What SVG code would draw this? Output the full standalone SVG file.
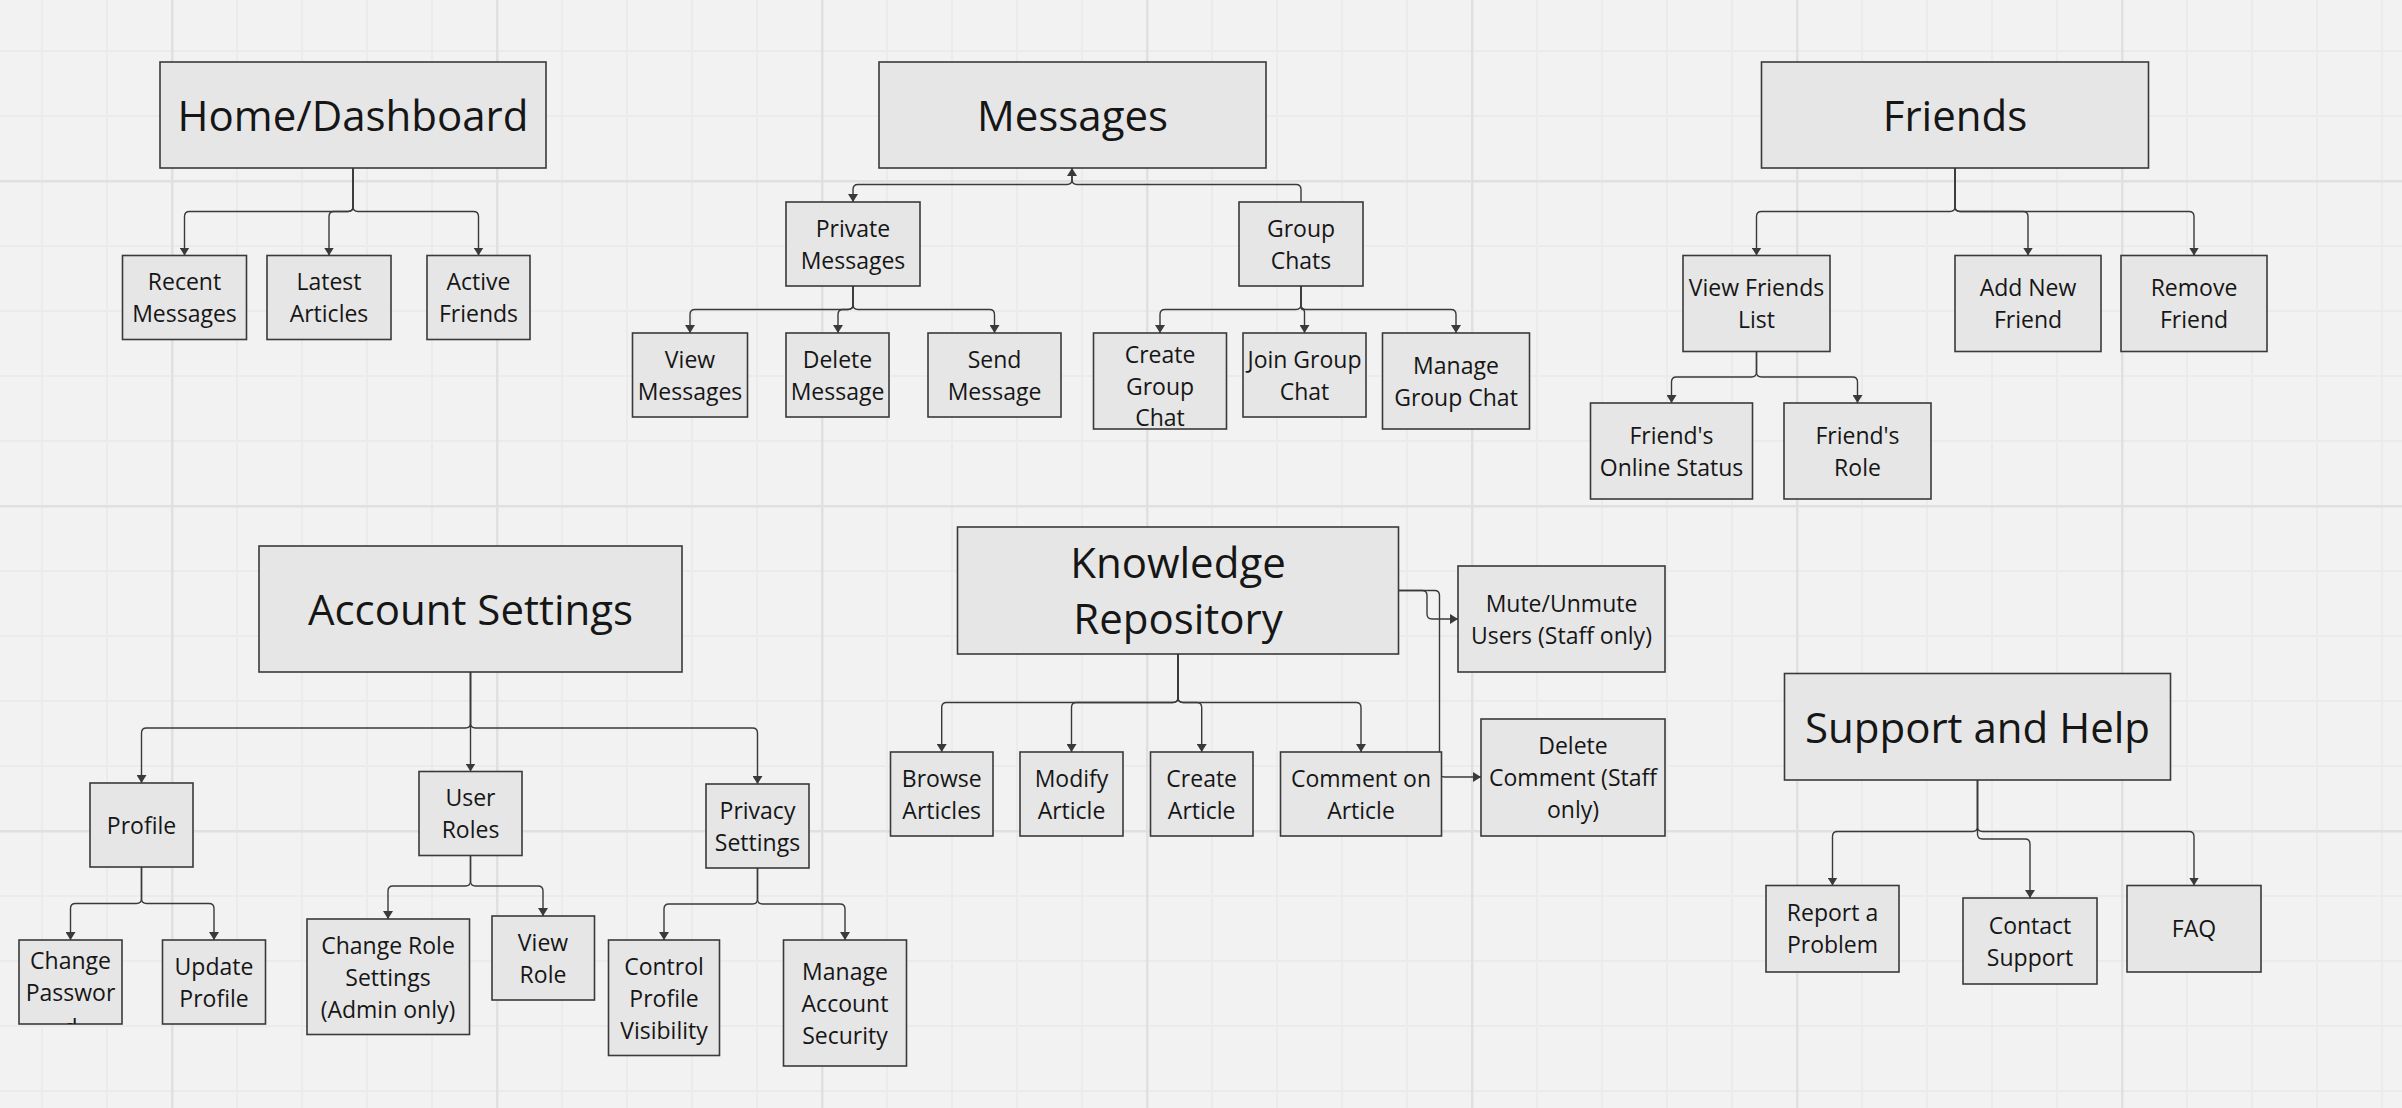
<svg xmlns="http://www.w3.org/2000/svg" width="2402" height="1108" viewBox="0 0 2402 1108">
<style>
.n rect{fill:#e6e6e6;stroke:#3a3a3a;stroke-width:1.6}
text{font-family:"Open Sans","Noto Sans","Liberation Sans",sans-serif;fill:#161616;text-anchor:middle}
.s{font-size:23px}
.l{font-size:42px}
#connectors path{fill:none;stroke:#3a3a3a;stroke-width:1.4}
</style>
<defs>
<pattern id="grid" patternUnits="userSpaceOnUse" x="171" y="180" width="325" height="325">
<rect x="65" y="0" width="2" height="325" fill="#ebebeb"/>
<rect x="130" y="0" width="2" height="325" fill="#ebebeb"/>
<rect x="195" y="0" width="2" height="325" fill="#ebebeb"/>
<rect x="260" y="0" width="2" height="325" fill="#ebebeb"/>
<rect x="0" y="65" width="325" height="2" fill="#ebebeb"/>
<rect x="0" y="130" width="325" height="2" fill="#ebebeb"/>
<rect x="0" y="195" width="325" height="2" fill="#ebebeb"/>
<rect x="0" y="260" width="325" height="2" fill="#ebebeb"/>
<rect x="0" y="0" width="2.5" height="325" fill="#e0e0e0"/>
<rect x="0" y="0" width="325" height="2.5" fill="#e0e0e0"/>
</pattern>
<marker id="ah" markerUnits="userSpaceOnUse" viewBox="0 0 8 10" refX="8" refY="5" markerWidth="8" markerHeight="10" orient="auto">
<path d="M0,0 L8,5 L0,10 z" fill="#3a3a3a"/>
</marker>
<clipPath id="clipPw"><rect x="19" y="940" width="103" height="84"/></clipPath>
</defs>
<rect width="2402" height="1108" fill="#f2f2f2"/>
<rect width="2402" height="1108" fill="url(#grid)"/>

<g id="connectors">
<path d="M353,168 V206.5 Q353,211.5 348,211.5 H189.5 Q184.5,211.5 184.5,216.5 V255.5" marker-end="url(#ah)"/>
<path d="M353,168 V206.5 Q353,211.5 348,211.5 H334 Q329,211.5 329,216.5 V255.5" marker-end="url(#ah)"/>
<path d="M353,168 V206.5 Q353,211.5 358,211.5 H473.5 Q478.5,211.5 478.5,216.5 V255.5" marker-end="url(#ah)"/>

<path d="M1301,202 V189.5 Q1301,184.5 1296,184.5 H1077 Q1072,184.5 1072,179.5 V168" marker-end="url(#ah)"/>
<path d="M1072,168 V179.5 Q1072,184.5 1067,184.5 H858 Q853,184.5 853,189.5 V202" marker-end="url(#ah)"/>

<path d="M853,286 V304.5 Q853,309.5 848,309.5 H695 Q690,309.5 690,314.5 V333" marker-end="url(#ah)"/>
<path d="M853,286 V304.5 Q853,309.5 848,309.5 H843 Q838,309.5 838,314.5 V333" marker-end="url(#ah)"/>
<path d="M853,286 V304.5 Q853,309.5 858,309.5 H989.5 Q994.5,309.5 994.5,314.5 V333" marker-end="url(#ah)"/>

<path d="M1301,286 V304.5 Q1301,309.5 1296,309.5 H1165 Q1160,309.5 1160,314.5 V333" marker-end="url(#ah)"/>
<path d="M1301,286 V306.5 Q1301,309.5 1302.8,309.5 Q1304.5,309.5 1304.5,312.5 V333" marker-end="url(#ah)"/>
<path d="M1301,286 V304.5 Q1301,309.5 1306,309.5 H1451 Q1456,309.5 1456,314.5 V333" marker-end="url(#ah)"/>

<path d="M1955,168 V206.5 Q1955,211.5 1950,211.5 H1761.5 Q1756.5,211.5 1756.5,216.5 V255.5" marker-end="url(#ah)"/>
<path d="M1955,168 V206.5 Q1955,211.5 1960,211.5 H2023 Q2028,211.5 2028,216.5 V255.5" marker-end="url(#ah)"/>
<path d="M1955,168 V206.5 Q1955,211.5 1960,211.5 H2189 Q2194,211.5 2194,216.5 V255.5" marker-end="url(#ah)"/>

<path d="M1756.5,351.5 V372 Q1756.5,377 1751.5,377 H1676.5 Q1671.5,377 1671.5,382 V403" marker-end="url(#ah)"/>
<path d="M1756.5,351.5 V372 Q1756.5,377 1761.5,377 H1852.5 Q1857.5,377 1857.5,382 V403" marker-end="url(#ah)"/>

<path d="M470.5,672 V723 Q470.5,728 465.5,728 H146.5 Q141.5,728 141.5,733 V783" marker-end="url(#ah)"/>
<path d="M470.5,672 V771.5" marker-end="url(#ah)"/>
<path d="M470.5,672 V723 Q470.5,728 475.5,728 H752.5 Q757.5,728 757.5,733 V784" marker-end="url(#ah)"/>

<path d="M141.5,867 V898.5 Q141.5,903.5 136.5,903.5 H75.5 Q70.5,903.5 70.5,908.5 V940" marker-end="url(#ah)"/>
<path d="M141.5,867 V898.5 Q141.5,903.5 146.5,903.5 H209 Q214,903.5 214,908.5 V940" marker-end="url(#ah)"/>

<path d="M470.5,855.5 V881 Q470.5,886 465.5,886 H393 Q388,886 388,891 V919" marker-end="url(#ah)"/>
<path d="M470.5,855.5 V881 Q470.5,886 475.5,886 H538 Q543,886 543,891 V916" marker-end="url(#ah)"/>

<path d="M757.5,868 V899 Q757.5,904 752.5,904 H669 Q664,904 664,909 V940" marker-end="url(#ah)"/>
<path d="M757.5,868 V899 Q757.5,904 762.5,904 H840 Q845,904 845,909 V940" marker-end="url(#ah)"/>

<path d="M1178,654 V697.5 Q1178,702.5 1173,702.5 H946.7 Q941.7,702.5 941.7,707.5 V752" marker-end="url(#ah)"/>
<path d="M1178,654 V697.5 Q1178,702.5 1173,702.5 H1076.5 Q1071.5,702.5 1071.5,707.5 V752" marker-end="url(#ah)"/>
<path d="M1178,654 V697.5 Q1178,702.5 1183,702.5 H1196.7 Q1201.7,702.5 1201.7,707.5 V752" marker-end="url(#ah)"/>
<path d="M1178,654 V697.5 Q1178,702.5 1183,702.5 H1356 Q1361,702.5 1361,707.5 V752" marker-end="url(#ah)"/>

<path d="M1398.5,590.5 H1422 Q1427,590.5 1427,595.5 V614 Q1427,619 1432,619 H1458" marker-end="url(#ah)"/>
<path d="M1398.5,590.5 H1434.5 Q1439.5,590.5 1439.5,595.5 V772 Q1439.5,777 1444.5,777 H1481" marker-end="url(#ah)"/>

<path d="M1977.5,780 V826.5 Q1977.5,831.5 1972.5,831.5 H1837.5 Q1832.5,831.5 1832.5,836.5 V885.5" marker-end="url(#ah)"/>
<path d="M1977.5,780 V826.5 Q1977.5,831.5 1982.5,831.5 H2189 Q2194,831.5 2194,836.5 V885.5" marker-end="url(#ah)"/>
<path d="M1977.5,780 V834 Q1977.5,839 1982.5,839 H2025 Q2030,839 2030,844 V898" marker-end="url(#ah)"/>
</g>

<g id="home" class="n"><rect x="160" y="62" width="386" height="106"/><text class="l" x="353" y="131">Home/Dashboard</text></g>
<g id="recent-messages" class="n"><rect x="122.5" y="255.5" width="124" height="84"/><text class="s" x="184.5" y="290">Recent</text><text class="s" x="184.5" y="322">Messages</text></g>
<g id="latest-articles" class="n"><rect x="267" y="255.5" width="124" height="84"/><text class="s" x="329" y="290">Latest</text><text class="s" x="329" y="322">Articles</text></g>
<g id="active-friends" class="n"><rect x="427" y="255.5" width="103" height="84"/><text class="s" x="478.5" y="290">Active</text><text class="s" x="478.5" y="322">Friends</text></g>

<g id="messages" class="n"><rect x="879" y="62" width="387" height="106"/><text class="l" x="1072.5" y="131">Messages</text></g>
<g id="private-messages" class="n"><rect x="786" y="202" width="134" height="84"/><text class="s" x="853" y="236.5">Private</text><text class="s" x="853" y="268.5">Messages</text></g>
<g id="group-chats" class="n"><rect x="1239" y="202" width="124" height="84"/><text class="s" x="1301" y="236.5">Group</text><text class="s" x="1301" y="268.5">Chats</text></g>
<g id="view-messages" class="n"><rect x="632.5" y="333" width="115" height="84"/><text class="s" x="690" y="367.5">View</text><text class="s" x="690" y="399.5">Messages</text></g>
<g id="delete-message" class="n"><rect x="786" y="333" width="103" height="84"/><text class="s" x="837.5" y="367.5">Delete</text><text class="s" x="837.5" y="399.5">Message</text></g>
<g id="send-message" class="n"><rect x="928" y="333" width="133" height="84"/><text class="s" x="994.5" y="367.5">Send</text><text class="s" x="994.5" y="399.5">Message</text></g>
<g id="create-group-chat" class="n"><rect x="1093.5" y="333" width="133" height="96"/><text class="s" x="1160" y="362.5">Create</text><text class="s" x="1160" y="394.5">Group</text><text class="s" x="1160" y="426">Chat</text></g>
<g id="join-group-chat" class="n"><rect x="1243" y="333" width="123" height="84"/><text class="s" x="1304.5" y="367.5">Join Group</text><text class="s" x="1304.5" y="399.5">Chat</text></g>
<g id="manage-group-chat" class="n"><rect x="1382.5" y="333" width="147" height="96"/><text class="s" x="1456" y="373.5">Manage</text><text class="s" x="1456" y="405.5">Group Chat</text></g>

<g id="friends" class="n"><rect x="1761.5" y="62" width="387" height="106"/><text class="l" x="1955" y="131">Friends</text></g>
<g id="view-friends-list" class="n"><rect x="1683" y="255.5" width="147" height="96"/><text class="s" x="1756.5" y="296">View Friends</text><text class="s" x="1756.5" y="328">List</text></g>
<g id="add-new-friend" class="n"><rect x="1955" y="255.5" width="146" height="96"/><text class="s" x="2028" y="296">Add New</text><text class="s" x="2028" y="328">Friend</text></g>
<g id="remove-friend" class="n"><rect x="2121" y="255.5" width="146" height="96"/><text class="s" x="2194" y="296">Remove</text><text class="s" x="2194" y="328">Friend</text></g>
<g id="friends-online-status" class="n"><rect x="1590.5" y="403" width="162" height="96"/><text class="s" x="1671.5" y="443.5">Friend's</text><text class="s" x="1671.5" y="475.5">Online Status</text></g>
<g id="friends-role" class="n"><rect x="1784" y="403" width="147" height="96"/><text class="s" x="1857.5" y="443.5">Friend's</text><text class="s" x="1857.5" y="475.5">Role</text></g>

<g id="account-settings" class="n"><rect x="259" y="546" width="423" height="126"/><text class="l" x="470.5" y="625">Account Settings</text></g>
<g id="profile" class="n"><rect x="90" y="783" width="103" height="84"/><text class="s" x="141.5" y="833.5">Profile</text></g>
<g id="user-roles" class="n"><rect x="419" y="771.5" width="103" height="84"/><text class="s" x="470.5" y="806">User</text><text class="s" x="470.5" y="838">Roles</text></g>
<g id="privacy-settings" class="n"><rect x="706" y="784" width="103" height="84"/><text class="s" x="757.5" y="818.5">Privacy</text><text class="s" x="757.5" y="850.5">Settings</text></g>
<g id="change-password" class="n"><rect x="19" y="940" width="103" height="84"/><g clip-path="url(#clipPw)"><text class="s" x="70.5" y="969">Change</text><text class="s" x="70.5" y="1001">Passwor</text><text class="s" x="70.5" y="1036">d</text></g></g>
<g id="update-profile" class="n"><rect x="162.5" y="940" width="103" height="84"/><text class="s" x="214" y="974.5">Update</text><text class="s" x="214" y="1006.5">Profile</text></g>
<g id="change-role-settings" class="n"><rect x="307" y="919" width="162.5" height="115.5"/><text class="s" x="388" y="953.5">Change Role</text><text class="s" x="388" y="985.5">Settings</text><text class="s" x="388" y="1017.5">(Admin only)</text></g>
<g id="view-role" class="n"><rect x="492" y="916" width="102.5" height="84"/><text class="s" x="543" y="950.5">View</text><text class="s" x="543" y="982.5">Role</text></g>
<g id="control-profile-visibility" class="n"><rect x="608.5" y="940" width="111" height="115.5"/><text class="s" x="664" y="974.5">Control</text><text class="s" x="664" y="1006.5">Profile</text><text class="s" x="664" y="1038.5">Visibility</text></g>
<g id="manage-account-security" class="n"><rect x="783.5" y="940" width="123" height="126"/><text class="s" x="845" y="979.5">Manage</text><text class="s" x="845" y="1011.5">Account</text><text class="s" x="845" y="1043.5">Security</text></g>

<g id="knowledge-repository" class="n"><rect x="957.5" y="527" width="441" height="127"/><text class="l" x="1178" y="577.5">Knowledge</text><text class="l" x="1178" y="634">Repository</text></g>
<g id="browse-articles" class="n"><rect x="890.5" y="752" width="102.5" height="84"/><text class="s" x="941.7" y="786.5">Browse</text><text class="s" x="941.7" y="818.5">Articles</text></g>
<g id="modify-article" class="n"><rect x="1020" y="752" width="103" height="84"/><text class="s" x="1071.5" y="786.5">Modify</text><text class="s" x="1071.5" y="818.5">Article</text></g>
<g id="create-article" class="n"><rect x="1150.5" y="752" width="102.5" height="84"/><text class="s" x="1201.7" y="786.5">Create</text><text class="s" x="1201.7" y="818.5">Article</text></g>
<g id="comment-on-article" class="n"><rect x="1280.5" y="752" width="161" height="84"/><text class="s" x="1361" y="786.5">Comment on</text><text class="s" x="1361" y="818.5">Article</text></g>
<g id="mute-unmute-users" class="n"><rect x="1458" y="566" width="207" height="106"/><text class="s" x="1561.5" y="611.5">Mute/Unmute</text><text class="s" x="1561.5" y="643.5">Users (Staff only)</text></g>
<g id="delete-comment" class="n"><rect x="1481" y="719" width="184" height="117"/><text class="s" x="1573" y="754">Delete</text><text class="s" x="1573" y="786">Comment (Staff</text><text class="s" x="1573" y="818">only)</text></g>

<g id="support-and-help" class="n"><rect x="1784.5" y="673.5" width="386" height="106.5"/><text class="l" x="1977.5" y="743">Support and Help</text></g>
<g id="report-a-problem" class="n"><rect x="1766" y="885.5" width="133" height="86.5"/><text class="s" x="1832.5" y="921">Report a</text><text class="s" x="1832.5" y="953">Problem</text></g>
<g id="contact-support" class="n"><rect x="1963" y="898" width="134" height="86"/><text class="s" x="2030" y="933.5">Contact</text><text class="s" x="2030" y="965.5">Support</text></g>
<g id="faq" class="n"><rect x="2127" y="885.5" width="134" height="86.5"/><text class="s" x="2194" y="937">FAQ</text></g>
</svg>
